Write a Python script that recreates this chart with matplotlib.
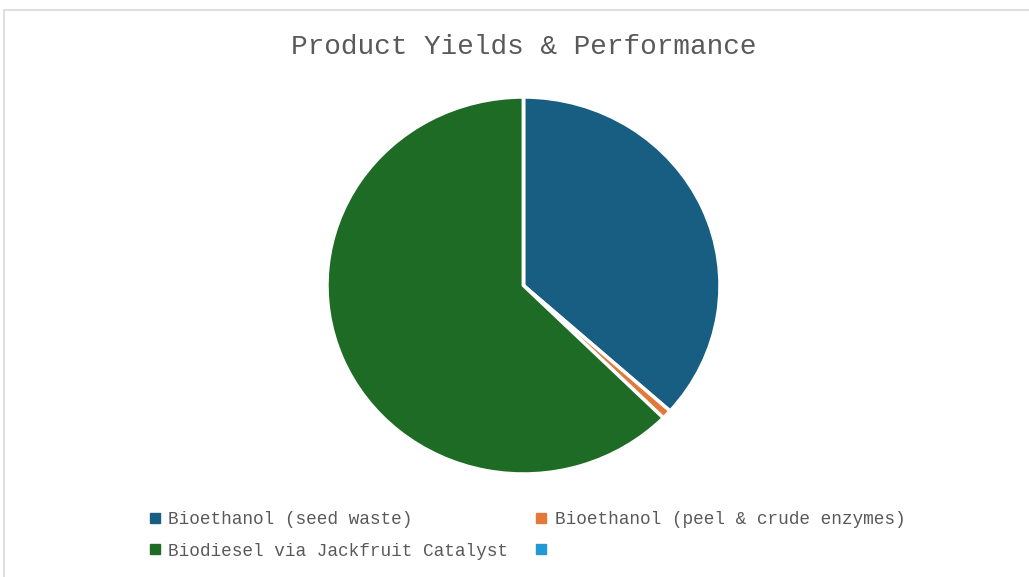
import matplotlib.pyplot as plt
from matplotlib.lines import Line2D
from matplotlib.patches import Rectangle

labels = ['Bioethanol (seed waste)', 'Bioethanol (peel & crude enzymes)',
          'Biodiesel via Jackfruit Catalyst', '']
values = [36.6, 0.8, 62.6, 0.0]
colors = ['#175E82', '#E2793A', '#1E6B25', '#2399D4']

font = 'Liberation Mono'
text_color = '#595959'

W, H = 1029, 577
fig = plt.figure(figsize=(W / 100, H / 100), dpi=100)

# thin chart-area border
fig.patches.append(Rectangle((4 / W, -0.1), 1.1, 1 - 10 / H + 0.1,
                             transform=fig.transFigure, fill=False,
                             edgecolor='#d9d9d9', linewidth=1.2))

# pie is slightly stretched horizontally in the reference
cx, cy, rx, ry = 523.5, 285.5, 196.5, 188.5
ax = fig.add_axes([(cx - rx) / W, 1 - (cy + ry) / H, 2 * rx / W, 2 * ry / H])
ax.pie(values, colors=colors, startangle=90, counterclock=False,
       wedgeprops={'edgecolor': 'white', 'linewidth': 2.5})
ax.set_xlim(-1, 1)
ax.set_ylim(-1, 1)
ax.set_aspect('auto')

fig.text(cx / W, 1 - 47 / H, 'Product Yields & Performance', ha='center',
         va='center', fontsize=20, family=font, color=text_color)

handles = [Line2D([], [], marker='s', linestyle='none', markersize=7,
                  color=c) for c in colors]
order = [0, 2, 1, 3]
leg = fig.legend([handles[i] for i in order], [labels[i] for i in order],
                 loc='upper left', bbox_to_anchor=(148 / W, 1 - 511 / H),
                 ncol=2, frameon=False, prop={'family': font, 'size': 12.8},
                 handlelength=0.8, handletextpad=0.35, columnspacing=1.45,
                 labelspacing=0.82, borderpad=0, borderaxespad=0)
for t in leg.get_texts():
    t.set_color(text_color)

plt.savefig('out.png', dpi=100)
